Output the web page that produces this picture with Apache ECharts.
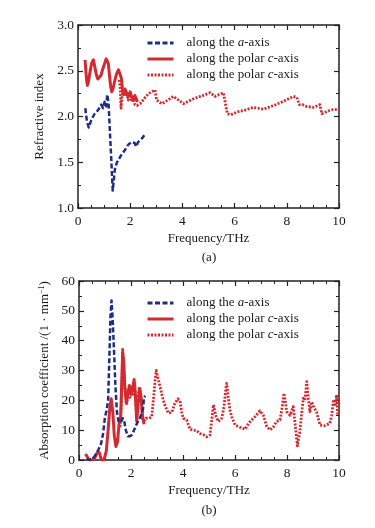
<!DOCTYPE html>
<html><head><meta charset="utf-8">
<script src="https://cdn.jsdelivr.net/npm/echarts@6/dist/echarts.min.js"></script>
<style>html,body{margin:0;padding:0;background:#fff}#c{width:375px;height:528px}</style>
</head><body><div id="c"></div>
<script>
// ---------- (a) Refractive index ----------
const topAFreq = [0.28,0.34,0.41,0.46,0.51,0.58,0.64,0.70,0.77,0.83,0.89,0.96,1.02,1.08,1.12,1.17,1.22,1.28,1.33,1.37,1.41,1.47,1.53,1.60,1.66,1.72,1.79,1.86,1.92,1.98,2.04,2.10,2.17,2.23,2.30,2.36,2.45,2.55];
const topAVal  = [2.09,1.95,1.88,1.92,1.96,2.00,2.03,2.05,2.07,2.10,2.13,2.09,2.16,2.11,2.24,2.15,1.85,1.50,1.19,1.30,1.42,1.48,1.52,1.55,1.58,1.60,1.63,1.66,1.69,1.71,1.72,1.73,1.71,1.67,1.72,1.74,1.76,1.80];
const topCSolidFreq = [0.27,0.30,0.33,0.36,0.40,0.45,0.52,0.59,0.64,0.70,0.76,0.82,0.88,0.95,1.02,1.08,1.12,1.16,1.21,1.25,1.29,1.34,1.40,1.47,1.55,1.61,1.66,1.70,1.74,1.80,1.86,1.93,2.00,2.06,2.12,2.18,2.24,2.28];
const topCSolidVal  = [2.62,2.50,2.40,2.34,2.38,2.47,2.58,2.62,2.55,2.46,2.41,2.40,2.45,2.52,2.58,2.63,2.64,2.58,2.44,2.33,2.27,2.30,2.38,2.46,2.51,2.52,2.42,2.31,2.24,2.30,2.26,2.22,2.27,2.21,2.18,2.23,2.21,2.16];
const topCDotFreq = [1.58,1.62,1.65,1.68,1.74,1.80,1.86,1.92,2.00,2.06,2.12,2.18,2.26,2.38,2.55,2.70,2.95,3.01,3.08,3.21,3.45,3.65,3.85,4.04,4.25,4.48,4.80,5.06,5.25,5.40,5.57,5.72,5.86,6.10,6.40,6.72,7.10,7.50,7.90,8.25,8.38,8.48,8.60,8.75,9.02,9.27,9.34,9.50,9.66,9.97];
const topCDotVal  = [2.40,2.30,2.09,2.20,2.30,2.22,2.26,2.18,2.24,2.16,2.21,2.13,2.12,2.14,2.20,2.25,2.29,2.18,2.20,2.14,2.18,2.22,2.18,2.14,2.17,2.20,2.23,2.26,2.22,2.24,2.26,2.03,2.02,2.05,2.07,2.10,2.08,2.12,2.17,2.22,2.21,2.13,2.13,2.11,2.10,2.13,2.03,2.05,2.07,2.08];

// ---------- (b) Absorption coefficient ----------
const botAFreq = [0.30,0.40,0.55,0.65,0.75,0.85,0.93,1.00,1.06,1.12,1.17,1.21,1.25,1.29,1.34,1.40,1.46,1.52,1.60,1.68,1.74,1.80,1.88,1.96,2.04,2.14,2.24,2.32,2.40,2.46,2.50,2.55];
const botAVal  = [0.5,0,0.5,2,3.5,5.5,9,14.5,16.5,20,35,48,53.5,48,38,25,16,13,12.5,14,13,10,8,8,8.5,10.5,12.5,13.5,15.5,17,21,21.5];
const botCSolidFreq = [0.25,0.32,0.40,0.50,0.60,0.70,0.78,0.86,0.96,1.05,1.12,1.18,1.24,1.30,1.36,1.42,1.48,1.54,1.60,1.64,1.68,1.72,1.76,1.82,1.88,1.94,2.00,2.06,2.12,2.18,2.22,2.28,2.34,2.40,2.44,2.50];
const botCSolidVal  = [2,1,0,0,0.5,2.5,2.5,0,0,3,10,17,20.5,16,8,4.5,6,12,14,25,36,33,25,19,22,25,22,24,27,20,13,19,24,20,15,12];
const botCDotFreq = [1.58,1.64,1.68,1.72,1.78,1.84,1.90,1.96,2.02,2.08,2.14,2.20,2.26,2.32,2.38,2.44,2.50,2.58,2.70,2.80,2.88,2.93,2.97,3.02,3.08,3.16,3.24,3.32,3.44,3.57,3.69,3.80,3.88,3.95,4.01,4.14,4.27,4.40,4.53,4.65,4.78,4.91,5.04,5.10,5.17,5.27,5.36,5.49,5.58,5.65,5.68,5.74,5.80,5.87,6.00,6.19,6.38,6.58,6.77,6.96,7.09,7.22,7.35,7.47,7.60,7.73,7.82,7.88,7.93,7.99,8.12,8.24,8.31,8.40,8.50,8.58,8.63,8.69,8.76,8.82,8.88,8.95,9.02,9.08,9.14,9.27,9.46,9.65,9.72,9.78,9.85,9.91,9.95,10.0];
const botCDotVal  = [11,20,37.5,30,22,19,24,21,25,22,26,17,22,24,21,14,13,14,14,14.5,22,27,30,28,26,23,20,18,15.7,16,19,20.5,20,16,14,13.4,10.3,10,9.8,8.9,8.5,7.8,8.4,13,18.5,14.5,12.9,14,18,24,25.7,21,17,14.5,11.7,11,10.3,12.9,14.5,16.5,15,11.2,10.1,11,12.9,13.4,18,22.4,20,16.2,15,17.9,12.3,4.7,10,17,20.7,20,26.3,20.7,16.2,19.5,18,18.5,16,11.7,11.5,12.3,15,19.6,18,21.8,15,20];

const xTicks = {min:0, max:10, interval:2};
const yTopTicks = {min:1, max:3, interval:0.5};
const yBotTicks = {min:0, max:60, interval:10};

const zip = (a,b) => a.map((v,i)=>[v,b[i]]);
const FONT = '"Liberation Serif","Times New Roman",serif';
const TXT = '#1a1a1a';
const BLUE = '#1f2d86';
const RED = '#d42a2f';

function xAx(grid, pos, showName){
  return {
    type:'value', gridIndex:grid, position:pos, min:xTicks.min, max:xTicks.max, interval:xTicks.interval,
    axisLine:{show:true, onZero:false, lineStyle:{color:'#222', width:1.5}},
    axisTick:{show:true, inside:true, length:5, lineStyle:{color:'#222', width:1.2}},
    minorTick:{show:true, splitNumber:4, length:3, lineStyle:{color:'#222', width:1}},
    splitLine:{show:false},
    axisLabel:{show:pos==='bottom', margin:6, fontSize:13.5, fontFamily:FONT, color:TXT},
    name: showName ? 'Frequency/THz' : '', nameLocation:'middle', nameGap:24,
    nameTextStyle:{fontSize:13, fontFamily:FONT, color:TXT}
  };
}
function yAx(grid, pos, t, dec, name, gap, rich){
  return {
    type:'value', gridIndex:grid, position:pos, min:t.min, max:t.max, interval:t.interval,
    axisLine:{show:true, onZero:false, lineStyle:{color:'#222', width:1.5}},
    axisTick:{show:true, inside:true, length:5, lineStyle:{color:'#222', width:1.2}},
    minorTick:{show:true, splitNumber:2, length:3, lineStyle:{color:'#222', width:1}},
    splitLine:{show:false},
    axisLabel:{show:pos==='left', margin:4, fontSize:13.5, fontFamily:FONT, color:TXT, formatter:v=>v.toFixed(dec)},
    name: name||'', nameLocation:'middle', nameGap:gap||0,
    nameTextStyle:{fontSize:13, fontFamily:FONT, color:TXT, rich:rich||{}}
  };
}

const legendNames = {
  a1:'along the {i|a}-axis', c1:'along the polar {i|c}-axis', c2:'along the polar {i|c}-axis',
  a2:'along the {i|a}-axis', c3:'along the polar {i|c}-axis', c4:'along the polar {i|c}-axis'
};
function legend(top, names){
  return {
    orient:'vertical', left:141, top:top, itemWidth:26, itemHeight:16, itemGap:0,
    selectedMode:false, data:names, formatter:n=>legendNames[n],
    itemStyle:{opacity:0, borderWidth:0, color:'transparent', borderColor:'transparent'},
    lineStyle:{width:3},
    textStyle:{fontSize:13, fontFamily:FONT, color:TXT, lineHeight:16, padding:[0,0,0,8],
      rich:{i:{fontStyle:'italic', fontSize:13, fontFamily:FONT, color:TXT}}}
  };
}
function ser(name, xi, yi, data, color, type, width){
  return {
    name, type:'line', xAxisIndex:xi, yAxisIndex:yi, data, symbol:'none', showSymbol:false,
    lineStyle:{color, width, type, cap:'butt', join:'round'}, itemStyle:{color}, z: 3
  };
}

const option = {
  animation:false,
  backgroundColor:'#fff',
  grid:[
    {left:78, top:25, width:261, height:183},
    {left:79, top:281, width:260, height:179}
  ],
  xAxis:[ xAx(0,'bottom',true), xAx(0,'top',false), xAx(1,'bottom',true), xAx(1,'top',false) ],
  yAxis:[
    yAx(0,'left',yTopTicks,1,'Refractive index',24),
    yAx(0,'right',yTopTicks,1),
    yAx(1,'left',yBotTicks,0,'Absorption coefficient /(1 · mm{sup|−1})',22,
        {sup:{fontSize:8, fontFamily:FONT, color:TXT, verticalAlign:'top', padding:[0,0,5,0]}}),
    yAx(1,'right',yBotTicks,0)
  ],
  legend:[ legend(30,['a1','c1','c2']), legend(290,['a2','c3','c4']) ],
  series:[
    ser('c1',0,0,zip(topCSolidFreq,topCSolidVal),RED,'solid',3),
    ser('c2',0,0,zip(topCDotFreq,topCDotVal),RED,[2,1.5],2.8),
    ser('a1',0,0,zip(topAFreq,topAVal),BLUE,[5,2.5],2.5),
    ser('c3',2,2,zip(botCSolidFreq,botCSolidVal),RED,'solid',3),
    ser('c4',2,2,zip(botCDotFreq,botCDotVal),RED,[2,1.5],2.8),
    ser('a2',2,2,zip(botAFreq,botAVal),BLUE,[5,2.5],2.5)
  ],
  graphic:[
    {type:'text', x:209, y:258, style:{text:'(a)', align:'center', verticalAlign:'middle', font:'13px '+FONT, fill:TXT}},
    {type:'text', x:209, y:511, style:{text:'(b)', align:'center', verticalAlign:'middle', font:'13px '+FONT, fill:TXT}}
  ]
};
const chart = echarts.init(document.getElementById('c'), null, {renderer:'canvas'});
chart.setOption(option);
</script></body></html>
